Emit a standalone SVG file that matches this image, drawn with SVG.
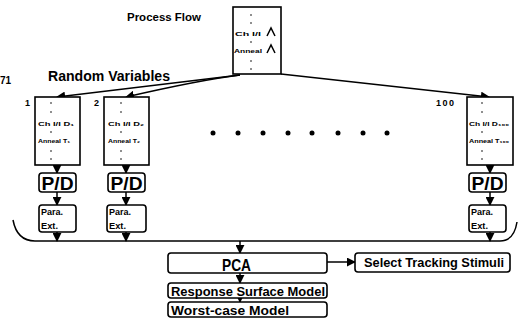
<svg xmlns="http://www.w3.org/2000/svg" width="519" height="331" viewBox="0 0 519 331">
<defs>
<marker id="ah" viewBox="0 0 10 10" refX="9" refY="5" markerWidth="6" markerHeight="6" orient="auto-start-reverse"><path d="M0,0 L10,5 L0,10 z" fill="#000"/></marker>
<style>
.bx{fill:#fff;stroke:#000;stroke-width:1.6}
.ln{fill:none;stroke:#000;stroke-width:1.5}
.t{font-family:"Liberation Sans",Arial,sans-serif;font-weight:bold;fill:#000}
.tiny{font-size:5.5px}
.dot{fill:#000}
</style>
</defs>
<rect width="519" height="331" fill="#fff"/>

<text class="t" x="127" y="21" font-size="11" textLength="74" lengthAdjust="spacingAndGlyphs">Process Flow</text>
<text class="t" x="0" y="84" font-size="10">71</text>
<text class="t" x="48" y="81" font-size="14" textLength="122" lengthAdjust="spacingAndGlyphs">Random Variables</text>

<g id="processflow">
<rect class="bx" x="233" y="7" width="48" height="67"/>
<g class="dot"><circle cx="251" cy="15" r="0.8"/><circle cx="251" cy="23" r="0.8"/><circle cx="251" cy="42" r="0.8"/><circle cx="251" cy="61" r="0.8"/><circle cx="251" cy="69" r="0.8"/></g>
<text class="t tiny" x="235" y="36" textLength="26" lengthAdjust="spacingAndGlyphs">Ch I/I</text>
<text class="t tiny" x="234" y="53" textLength="28" lengthAdjust="spacingAndGlyphs">Anneal</text>
<path class="ln" d="M267,36 L271,28 L275,36 M267,53 L271,45 L275,53" stroke-width="2.2"/>
</g>

<g id="connectors">
<path class="ln" d="M240,75 Q200,80 57,97" marker-end="url(#ah)"/>
<path class="ln" d="M240,75 Q200,80 126,97" marker-end="url(#ah)"/>
<path class="ln" d="M281,74 L489,97" marker-end="url(#ah)"/>
<path class="ln" d="M57,165 V173" marker-end="url(#ah)"/>
<path class="ln" d="M126,165 V173" marker-end="url(#ah)"/>
<path class="ln" d="M490,165 V173" marker-end="url(#ah)"/>
<path class="ln" d="M57,192 V205" marker-end="url(#ah)"/>
<path class="ln" d="M126,192 V205" marker-end="url(#ah)"/>
<path class="ln" d="M490,192 V205" marker-end="url(#ah)"/>
<path class="ln" d="M57,232 V241" marker-end="url(#ah)"/>
<path class="ln" d="M126,232 V241" marker-end="url(#ah)"/>
<path class="ln" d="M490,232 V241" marker-end="url(#ah)"/>
<path class="ln" d="M13,220 Q17,241 35,241 H500 Q514,241 517,222"/>
<path class="ln" d="M240,241 V253" marker-end="url(#ah)"/>
<path class="ln" d="M327,262 H355" marker-end="url(#ah)"/>
<path class="ln" d="M240,273 V283" marker-end="url(#ah)"/>
<path class="ln" d="M240,298 V302" marker-end="url(#ah)"/>
</g>

<g id="rv1">
<text class="t" x="25" y="106" font-size="9">1</text>
<rect class="bx" x="35" y="97" width="45" height="68"/>
<g class="dot"><circle cx="51" cy="103" r="0.8"/><circle cx="51" cy="112" r="0.8"/><circle cx="51" cy="132" r="0.8"/><circle cx="51" cy="151" r="0.8"/><circle cx="51" cy="159" r="0.8"/></g>
<text class="t tiny" x="38" y="126" textLength="36" lengthAdjust="spacingAndGlyphs">Ch I/I D₁</text>
<text class="t tiny" x="38" y="143" textLength="32" lengthAdjust="spacingAndGlyphs">Anneal T₁</text>
</g>
<g id="rv2">
<text class="t" x="94" y="106" font-size="9">2</text>
<rect class="bx" x="104" y="97" width="45" height="68"/>
<g class="dot"><circle cx="121" cy="103" r="0.8"/><circle cx="121" cy="112" r="0.8"/><circle cx="121" cy="132" r="0.8"/><circle cx="121" cy="151" r="0.8"/><circle cx="121" cy="159" r="0.8"/></g>
<text class="t tiny" x="108" y="126" textLength="36" lengthAdjust="spacingAndGlyphs">Ch I/I D₂</text>
<text class="t tiny" x="108" y="143" textLength="32" lengthAdjust="spacingAndGlyphs">Anneal T₂</text>
</g>
<g id="rv100">
<text class="t" x="436" y="106" font-size="9" letter-spacing="1.5">100</text>
<rect class="bx" x="467" y="97" width="46" height="68"/>
<g class="dot"><circle cx="482" cy="103" r="0.8"/><circle cx="482" cy="112" r="0.8"/><circle cx="482" cy="132" r="0.8"/><circle cx="482" cy="151" r="0.8"/><circle cx="482" cy="159" r="0.8"/></g>
<text class="t tiny" x="469" y="126" textLength="40" lengthAdjust="spacingAndGlyphs">Ch I/I D₁₀₀</text>
<text class="t tiny" x="469" y="143" textLength="40" lengthAdjust="spacingAndGlyphs">Anneal T₁₀₀</text>
</g>

<g id="ellipsis" class="dot">
<circle cx="213" cy="133" r="2.5"/><circle cx="238" cy="133" r="2.5"/><circle cx="263" cy="133" r="2.5"/><circle cx="288" cy="133" r="2.5"/><circle cx="312" cy="133" r="2.5"/><circle cx="338" cy="133" r="2.5"/><circle cx="363" cy="133" r="2.5"/><circle cx="387" cy="133" r="2.5"/>
</g>

<g id="pd1"><rect class="bx" x="39" y="173" width="37" height="19" rx="3"/><text class="t" x="41.5" y="190" font-size="18" textLength="32" lengthAdjust="spacingAndGlyphs">P/D</text></g>
<g id="pd2"><rect class="bx" x="108" y="173" width="37" height="19" rx="3"/><text class="t" x="110.5" y="190" font-size="18" textLength="32" lengthAdjust="spacingAndGlyphs">P/D</text></g>
<g id="pd100"><rect class="bx" x="469" y="173" width="37" height="19" rx="3"/><text class="t" x="471.5" y="190" font-size="18" textLength="32" lengthAdjust="spacingAndGlyphs">P/D</text></g>

<g id="pe1"><rect class="bx" x="39" y="205" width="37" height="27" rx="3"/><text class="t" x="41" y="215" font-size="9" textLength="22" lengthAdjust="spacingAndGlyphs">Para.</text><text class="t" x="41" y="229" font-size="9" textLength="17" lengthAdjust="spacingAndGlyphs">Ext.</text></g>
<g id="pe2"><rect class="bx" x="107" y="205" width="39" height="27" rx="3"/><text class="t" x="109" y="215" font-size="9" textLength="22" lengthAdjust="spacingAndGlyphs">Para.</text><text class="t" x="109" y="229" font-size="9" textLength="17" lengthAdjust="spacingAndGlyphs">Ext.</text></g>
<g id="pe100"><rect class="bx" x="469" y="205" width="37" height="27" rx="3"/><text class="t" x="471" y="215" font-size="9" textLength="22" lengthAdjust="spacingAndGlyphs">Para.</text><text class="t" x="471" y="229" font-size="9" textLength="17" lengthAdjust="spacingAndGlyphs">Ext.</text></g>

<g id="pca"><rect class="bx" x="168" y="253" width="159" height="20" rx="3"/><text class="t" x="222" y="271" font-size="17" textLength="29" lengthAdjust="spacingAndGlyphs">PCA</text></g>
<g id="select"><rect class="bx" x="355" y="253" width="155" height="19" rx="3"/><text class="t" x="364" y="267" font-size="12" textLength="140" lengthAdjust="spacingAndGlyphs">Select Tracking Stimuli</text></g>
<g id="rsm"><rect class="bx" x="168" y="283" width="159" height="15" rx="3"/><text class="t" x="171" y="296" font-size="13" textLength="154" lengthAdjust="spacingAndGlyphs">Response Surface Model</text></g>
<g id="wcm"><rect class="bx" x="168" y="302" width="159" height="15" rx="3"/><text class="t" x="171" y="315" font-size="13" textLength="118" lengthAdjust="spacingAndGlyphs">Worst-case Model</text></g>
</svg>
